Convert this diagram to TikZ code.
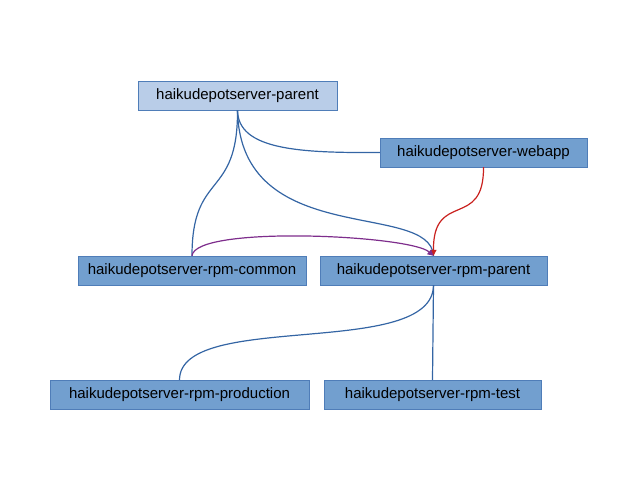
\documentclass[tikz,border=0pt]{standalone}
\usepackage{fontspec}
\setmainfont{Liberation Sans}
\usetikzlibrary{arrows.meta}
\definecolor{boxfill}{HTML}{729FCF}
\definecolor{boxlight}{HTML}{B9CDE8}
\definecolor{boxline}{HTML}{4F7DB8}
\definecolor{edgeblue}{HTML}{3465A4}
\definecolor{edgered}{HTML}{C9211E}
\definecolor{edgepurple}{HTML}{7E2D8C}
\tikzset{
  module/.style={draw=boxline, fill=boxfill, minimum height=29pt, inner sep=0pt, font=\fontsize{15}{18}\selectfont},
  dep/.style={edgeblue, line width=1.2pt},
  arr/.style={-{Triangle[length=6pt,width=6pt]}}
}
\begin{document}
\begin{tikzpicture}[x=1pt,y=-1pt]
\useasboundingbox (0,0) rectangle (640,498);
\node [module, fill=boxlight, minimum width=199pt] (parent) at (237.5,95.5) {haikudepotserver-parent};
\node [module, minimum width=207pt] (webapp) at (483.5,152.5) {haikudepotserver-webapp};
\node [module, minimum width=228pt] (common) at (192,270.5) {haikudepotserver-rpm-common};
\node [module, minimum width=227pt] (rpmparent) at (433.5,270.5) {haikudepotserver-rpm-parent};
\node [module, minimum width=259pt] (production) at (179.5,394.5) {haikudepotserver-rpm-production};
\node [module, minimum width=217pt] (test) at (432.5,394.5) {haikudepotserver-rpm-test};
% parent links
\draw [dep] (parent.south) .. controls (238,150) and (300,153) .. (webapp.west);
\draw [dep] (parent.south) .. controls (238,200) and (192,170) .. (common.north);
\draw [dep] (parent.south) .. controls (240,250) and (430,200) .. (rpmparent.north);
% rpm links
\draw [dep, edgered, arr] (webapp.south) .. controls (484,230) and (433,190) .. (rpmparent.north);
\draw [dep, edgepurple, arr] (common.north) .. controls (195,225) and (410,235) .. (rpmparent.north);
\draw [dep] (rpmparent.south) .. controls (433,360) and (180,310) .. (production.north);
\draw [dep] (rpmparent.south) -- (test.north);
\end{tikzpicture}
\end{document}
